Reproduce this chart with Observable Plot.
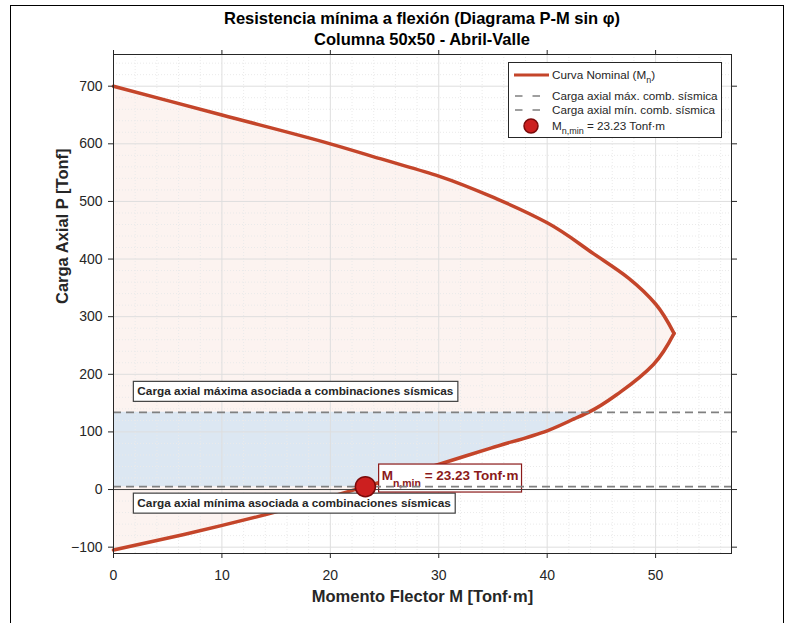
<!DOCTYPE html>
<html>
<head>
<meta charset="utf-8">
<script src="https://cdn.jsdelivr.net/npm/d3@7"></script>
<script src="https://cdn.jsdelivr.net/npm/@observablehq/plot@0.6"></script>
<style>
  body { margin: 0; background: #fff; font-family: "Liberation Sans", Arial, Helvetica, sans-serif; }
  #wrap { position: relative; width: 792px; height: 623px; overflow: hidden; background: #fff; }
  #wrap svg { position: absolute; left: 0; top: 0; }
  #border { position: absolute; left: 10px; top: 5px; width: 774px; height: 700px; border: 1.5px solid #000; box-sizing: border-box; pointer-events: none; }
  #title { position: absolute; left: 113px; top: 8px; width: 618px; text-align: center; font-weight: bold; font-size: 16.5px; line-height: 21px; color: #000; }
  #legend { position: absolute; left: 508px; top: 62px; width: 214px; height: 76px; border: 1px solid #262626; background: #fff; box-sizing: border-box; font-size: 11.7px; color: #262626; }
  #legend .row { position: absolute; left: 0; height: 14px; line-height: 14px; white-space: nowrap; }
  #legend .row svg { position: absolute; left: 4px; top: 0; }
  #legend .row span { position: absolute; left: 43px; top: 0; }
  #legend sub { font-size: 9px; vertical-align: -4px; line-height: 0; }
</style>
</head>
<body>
<div id="wrap">
  <div id="border"></div>
  <div id="title"></div>
  <div id="legend"></div>
</div>
<script>
// ---------------- data ----------------
const titleLines = ["Resistencia mínima a flexión (Diagrama P-M sin φ)", "Columna 50x50 - Abril-Valle"];
const xLabel = "Momento Flector M [Tonf·m]";
const yLabel = "Carga Axial P [Tonf]";

// Nominal P-M interaction curve (ordered by P, from pure tension to pure compression)
const M_curve = [0, 6.5, 13.3, 23.23, 29.9, 34.8, 40.0, 42.4, 43.8, 46.8, 49.8, 51.7, 50.0, 47.5, 44.3, 40.0, 35.4, 30.0, 25.0, 20.0, 10.0, 0];
const P_curve = [-105, -78, -47, 5, 43, 72, 102, 122, 134, 170, 217, 271, 322, 367, 409, 463, 504, 544, 572, 600, 650, 700];
// indices where the curve has corners (kink on tension side, nose at balanced point)
const kinkIndex = 7, noseIndex = 11;

const P_max_sis = 134;   // carga axial máxima combinaciones sísmicas
const P_min_sis = 5;     // carga axial mínima combinaciones sísmicas
const M_n_min = 23.23;   // momento mínimo
const P_at_Mmin = 5;

const xTicks = [0, 10, 20, 30, 40, 50];
const yTicks = [-100, 0, 100, 200, 300, 400, 500, 600, 700];
const xDomain = [0, 57];
const yDomain = [-111, 755];

const annMax = "Carga axial máxima asociada a combinaciones sísmicas";
const annMin = "Carga axial mínima asociada a combinaciones sísmicas";
const mLabelBase = "M", mLabelSub = "n,min", mLabelRest = " = " + M_n_min.toFixed(2) + " Tonf·m";

const legendLabels = [
  "Curva Nominal (M<sub>n</sub>)",
  "Carga axial máx. comb. sísmica",
  "Carga axial mín. comb. sísmica",
  "M<sub>n,min</sub> = " + M_n_min.toFixed(2) + " Tonf·m"
];

// ---------------- colors ----------------
const cCurve = "#c4452a", cPink = "#fcf3f0", cBlue = "#dce7f2", cDash = "#808080";
const cDot = "#cc1f1f", cDotEdge = "#7a0a0a", cDarkRed = "#8b1a1a", cAxis = "#262626";

// ---------------- build ----------------
const curve = M_curve.map((m, i) => ({M: m, P: P_curve[i]}));
const band = curve.filter(d => d.P >= P_min_sis && d.P <= P_max_sis);
const seg1 = curve.slice(0, kinkIndex + 1);
const seg2 = curve.slice(kinkIndex, noseIndex + 1);
const seg3 = curve.slice(noseIndex);
const minorX = d3.range(0, 57, 2).filter(v => v % 10 !== 0);
const minorY = d3.range(-100, 760, 20).filter(v => v % 100 !== 0);

document.getElementById("title").innerHTML = titleLines.join("<br>");

const smooth = "monotone-y";
const lineOpts = {x: "M", y: "P", stroke: cCurve, strokeWidth: 3.5, curve: smooth};
const chart = Plot.plot({
  width: 792, height: 623,
  marginLeft: 113, marginRight: 61, marginTop: 54, marginBottom: 70,
  style: {fontFamily: '"Liberation Sans", Arial, Helvetica, sans-serif', background: "transparent"},
  x: {domain: xDomain},
  y: {domain: yDomain},
  marks: [
    Plot.areaX(seg1, {y: "P", x1: 0, x2: "M", fill: cPink, curve: smooth}),
    Plot.areaX(seg2, {y: "P", x1: 0, x2: "M", fill: cPink, curve: smooth}),
    Plot.areaX(seg3, {y: "P", x1: 0, x2: "M", fill: cPink, curve: smooth}),
    Plot.areaX(band, {y: "P", x1: 0, x2: "M", fill: cBlue, curve: smooth}),
    Plot.gridX(minorX, {stroke: "#eaeaea", strokeOpacity: 1, strokeDasharray: "1,2"}),
    Plot.gridY(minorY, {stroke: "#eaeaea", strokeOpacity: 1, strokeDasharray: "1,2"}),
    Plot.gridX(xTicks, {stroke: "#dedede", strokeOpacity: 1}),
    Plot.gridY(yTicks, {stroke: "#dedede", strokeOpacity: 1}),
    Plot.line(seg1, lineOpts),
    Plot.line(seg2, lineOpts),
    Plot.line(seg3, lineOpts),
    Plot.text([annMax], {x: xDomain[0] + 2.2, y: P_max_sis + 36, text: d => d, textAnchor: "start", fontWeight: "bold", fontSize: 11.8, fill: "#262626"}),
    Plot.text([annMin], {x: xDomain[0] + 2.2, y: P_min_sis - 29, text: d => d, textAnchor: "start", fontWeight: "bold", fontSize: 11.8, fill: "#262626"}),
    Plot.text([mLabelBase + mLabelSub + mLabelRest], {x: M_n_min + 1.5, y: P_at_Mmin + 19, text: d => d, textAnchor: "start", fontWeight: "bold", fontSize: 13.5, fill: cDarkRed}),
    Plot.ruleY([0], {stroke: "#404040", strokeWidth: 1}),
    Plot.ruleY([P_max_sis, P_min_sis], {stroke: cDash, strokeWidth: 1.8, strokeDasharray: "8,5"}),
    Plot.dot([{M: M_n_min, P: P_at_Mmin}], {x: "M", y: "P", r: 10, fill: cDot, stroke: cDotEdge, strokeWidth: 1.5}),
    Plot.frame({stroke: cAxis, strokeWidth: 1}),
    Plot.axisX(xTicks, {anchor: "bottom", tickSize: 5, tickPadding: 12, fontSize: 14, color: "#262626", label: null}),
    Plot.axisX(xTicks, {anchor: "top", tickSize: 5, tickFormat: () => "", color: "#262626", label: null}),
    Plot.axisY(yTicks, {anchor: "left", tickSize: 5, tickPadding: 6, fontSize: 14, color: "#262626", label: null}),
    Plot.axisY(yTicks, {anchor: "right", tickSize: 5, tickFormat: () => "", color: "#262626", label: null}),
    Plot.text([xLabel], {frameAnchor: "bottom", dy: 48, text: d => d, fontWeight: "bold", fontSize: 16.5, fill: "#262626"}),
    Plot.text([yLabel], {frameAnchor: "left", dx: -51, rotate: -90, text: d => d, fontWeight: "bold", fontSize: 16.5, fill: "#262626"})
  ]
});

const wrap = document.getElementById("wrap");
wrap.insertBefore(chart, document.getElementById("title"));

const NS = "http://www.w3.org/2000/svg";
function findText(str) {
  return Array.from(chart.querySelectorAll("text")).find(t => t.textContent === str);
}
// rich text for marker label
const tM = findText(mLabelBase + mLabelSub + mLabelRest);
if (tM) {
  tM.textContent = "";
  const a = document.createElementNS(NS, "tspan"); a.textContent = mLabelBase; tM.appendChild(a);
  const b = document.createElementNS(NS, "tspan"); b.textContent = mLabelSub; b.setAttribute("font-size", "10.5"); b.setAttribute("dy", "7"); tM.appendChild(b);
  const c = document.createElementNS(NS, "tspan"); c.textContent = mLabelRest; c.setAttribute("dy", "-7"); tM.appendChild(c);
}

function boxify(t, stroke, padX, padTop, padBottom) {
  if (!t) return;
  const bb = t.getBBox();
  const r = document.createElementNS(NS, "rect");
  r.setAttribute("x", bb.x - padX);
  r.setAttribute("y", bb.y - padTop);
  r.setAttribute("width", bb.width + 2 * padX);
  r.setAttribute("height", bb.height + padTop + padBottom);
  r.setAttribute("fill", "#fff");
  r.setAttribute("stroke", stroke);
  r.setAttribute("stroke-width", "1.2");
  const tr = t.getAttribute("transform");
  if (tr) r.setAttribute("transform", tr);
  t.parentNode.insertBefore(r, t);
}
boxify(findText(annMax), "#404040", 4, 3, 3);
boxify(findText(annMin), "#404040", 4, 3, 3);
boxify(tM, cDarkRed, 3, 4, 3);

// ---------------- legend ----------------
const legend = document.getElementById("legend");
const rowCenters = [12, 33, 47, 63];
const symbols = [
  `<svg width="38" height="14"><line x1="1" y1="7" x2="36" y2="7" stroke="${cCurve}" stroke-width="3"/></svg>`,
  `<svg width="38" height="14"><line x1="2" y1="7" x2="37" y2="7" stroke="${cDash}" stroke-width="1.5" stroke-dasharray="7.5,10"/></svg>`,
  `<svg width="38" height="14"><line x1="2" y1="7" x2="37" y2="7" stroke="${cDash}" stroke-width="1.5" stroke-dasharray="7.5,10"/></svg>`,
  `<svg width="38" height="18" style="top:-2px"><circle cx="18" cy="9" r="7" fill="${cDot}" stroke="${cDotEdge}" stroke-width="1.5"/></svg>`
];
legendLabels.forEach((lab, i) => {
  const row = document.createElement("div");
  row.className = "row";
  row.style.top = (rowCenters[i] - 7) + "px";
  row.innerHTML = symbols[i] + `<span>${lab}</span>`;
  legend.appendChild(row);
});
</script>
</body>
</html>
